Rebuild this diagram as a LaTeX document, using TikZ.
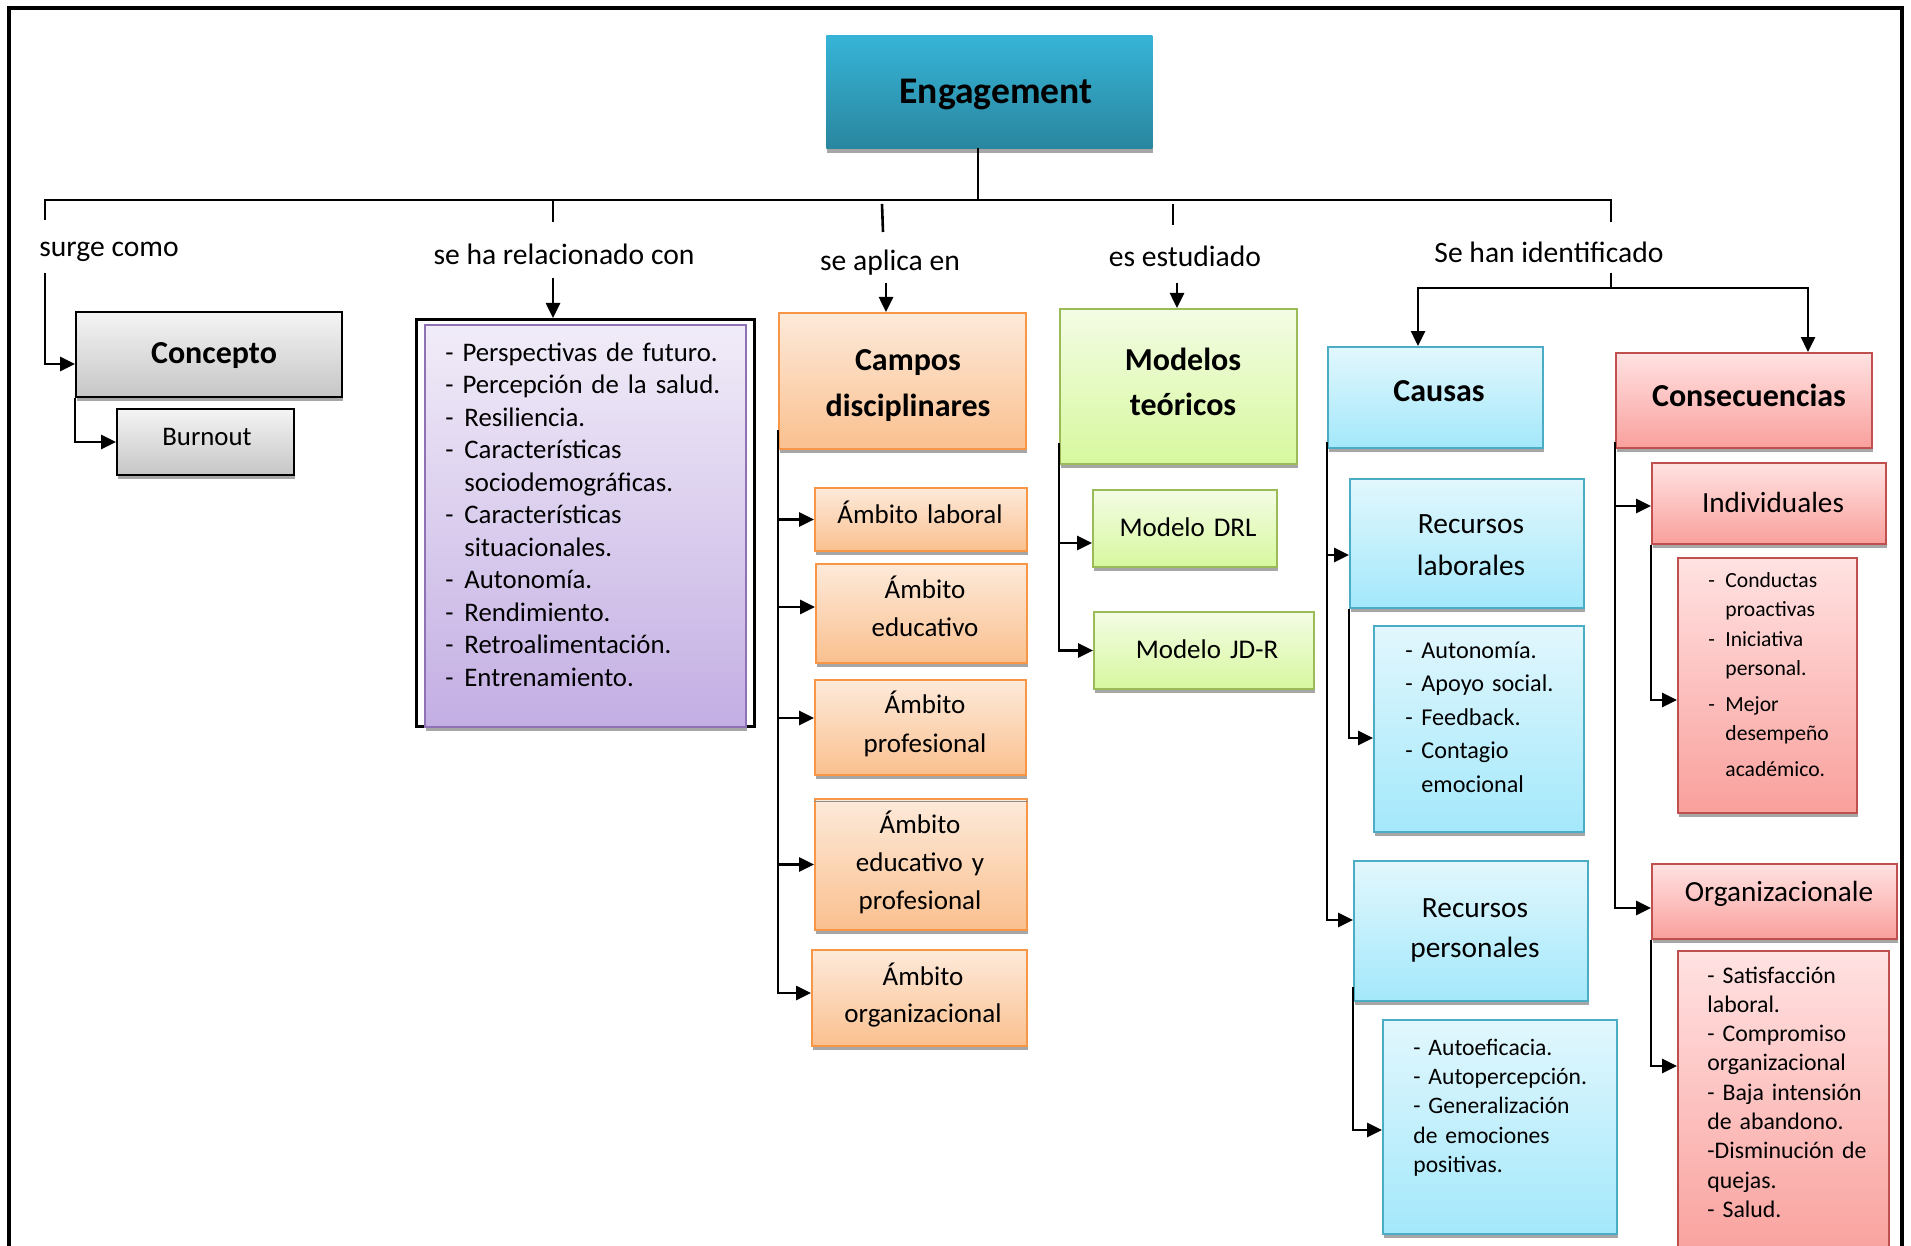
\documentclass[tikz,border=0pt]{standalone}
\usepackage{fontspec}
\setmainfont{Carlito}
\usetikzlibrary{arrows.meta,shadows}
\definecolor{engtop}{HTML}{36B4D7}
\definecolor{engbot}{HTML}{2A869F}
\definecolor{grytop}{HTML}{F4F4F4}
\definecolor{grybot}{HTML}{C6C6C6}
\definecolor{purtop}{HTML}{F1ECF8}
\definecolor{purbot}{HTML}{C3AEE3}
\definecolor{purbrd}{HTML}{8E72B4}
\definecolor{orgtop}{HTML}{FDEADA}
\definecolor{orgbot}{HTML}{FAC08F}
\definecolor{orgbrd}{HTML}{F79646}
\definecolor{grntop}{HTML}{F3FCE4}
\definecolor{grnbot}{HTML}{D7F89E}
\definecolor{grnbrd}{HTML}{9BBB59}
\definecolor{cyntop}{HTML}{E2F7FD}
\definecolor{cynbot}{HTML}{A3E8FB}
\definecolor{cynbrd}{HTML}{4BACC6}
\definecolor{redtop}{HTML}{FFE2E2}
\definecolor{redbot}{HTML}{F9A09C}
\definecolor{redbrd}{HTML}{C0504D}
\newcommand{\myfs}[2]{\fontsize{#1}{#2}\selectfont}
\newcommand{\mydash}[1]{\makebox[#1][l]{-}}
\tikzset{
 bx/.style={rectangle, anchor=north west, inner sep=0pt,
   drop shadow={shadow xshift=0.5pt, shadow yshift=-2.2pt, opacity=1, fill=black!35}},
 engbox/.style={bx, top color=engtop, bottom color=engbot},
 grybox/.style={bx, draw=black, line width=1pt, top color=grytop, bottom color=grybot},
 purbox/.style={bx, draw=purbrd, line width=1pt, top color=purtop, bottom color=purbot},
 orbox/.style={bx, draw=orgbrd, line width=1pt, top color=orgtop, bottom color=orgbot},
 grbox/.style={bx, draw=grnbrd, line width=1pt, top color=grntop, bottom color=grnbot},
 cybox/.style={bx, draw=cynbrd, line width=1pt, top color=cyntop, bottom color=cynbot},
 rdbox/.style={bx, draw=redbrd, line width=1pt, top color=redtop, bottom color=redbot},
 ttl/.style={anchor=base, inner sep=0pt, align=center, text width=160pt},
 lbl/.style={font=\myfs{14.8}{17}, inner sep=0pt},
 txtlist/.style={anchor=base west, inner sep=0pt, align=left, text width=#1},
 conn/.style={line width=1.3pt},
 arr/.style={line width=1.3pt, -{Triangle[length=7.5pt,width=7pt]}},
}
\begin{document}
\begin{tikzpicture}[x=0.5pt,y=-0.5pt]
\useasboundingbox (0,0) rectangle (1911,1246);
\clip (0,0) rectangle (1911,1246);
% frame
\draw[line width=1.6pt] (9,1260) -- (9,8) -- (1902,8) -- (1902,1260);

% ---------- boxes
\node[engbox, minimum width=163pt, minimum height=56.5pt] (eng) at (826,35) {};
\node[ttl, font=\bfseries\myfs{18.8}{22}] (engt) at (996,104) {Engagement};

\node[grybox, minimum width=133pt, minimum height=42.5pt] (concepto) at (75,311) {};
\node[ttl, font=\bfseries\myfs{16}{20}] (conceptot) at (214,363) {Concepto};
\node[grybox, minimum width=88.5pt, minimum height=33pt] (burnout) at (116,408) {};
\node[ttl, font=\myfs{13.4}{16}] (burnoutt) at (207,445) {Burnout};

\node[draw, line width=1.5pt, anchor=north west, inner sep=0pt, minimum width=169pt, minimum height=203.5pt] (relout) at (415,318) {};
\node[purbox, minimum width=160.5pt, minimum height=201pt] (rel) at (424,324) {};
\node[txtlist=150pt, font=\myfs{13.4}{16.25}] (reltxt) at (445,361) {- Perspectivas de futuro.\\
- Percepción de la salud.\\
\mydash{9.5pt}Resiliencia.\\
\mydash{9.5pt}Características\\
\hspace*{9.5pt}sociodemográficas.\\
\mydash{9.5pt}Características\\
\hspace*{9.5pt}situacionales.\\
\mydash{9.5pt}Autonomía.\\
\mydash{9.5pt}Rendimiento.\\
\mydash{9.5pt}Retroalimentación.\\
\mydash{9.5pt}Entrenamiento.};

\node[orbox, minimum width=123.5pt, minimum height=68pt] (campos) at (778,312) {};
\node[ttl, font=\bfseries\myfs{16}{23}] (campost) at (908,370) {Campos\\disciplinares};
\node[orbox, minimum width=106pt, minimum height=31.5pt] (lab) at (814,487) {};
\node[ttl, font=\myfs{13.5}{19}] (labt) at (920,523) {Ámbito laboral};
\node[orbox, minimum width=105.5pt, minimum height=49.5pt] (edu) at (815,563) {};
\node[ttl, font=\myfs{13.5}{19}] (edut) at (925,598) {Ámbito\\educativo};
\node[orbox, minimum width=105.5pt, minimum height=47.5pt] (prof) at (814,679) {};
\node[ttl, font=\myfs{13.5}{19.5}] (proft) at (925,713) {Ámbito\\profesional};
\node[orbox, minimum width=106pt, minimum height=65.5pt] (edupro) at (814,798) {};
\draw[black!45, line width=0.6pt] ([yshift=-1.6pt]edupro.north west) -- ([yshift=-1.6pt]edupro.north east);
\node[ttl, font=\myfs{13.5}{19}] (eduprot) at (920,833) {Ámbito\\educativo y\\profesional};
\node[orbox, minimum width=107.5pt, minimum height=48pt] (orgam) at (811,949) {};
\node[ttl, font=\myfs{13.5}{18.5}] (orgamt) at (923,985) {Ámbito\\organizacional};

\node[grbox, minimum width=118.5pt, minimum height=77.5pt] (modelos) at (1059,308) {};
\node[ttl, font=\bfseries\myfs{16}{22.5}] (modelost) at (1183,370) {Modelos\\teóricos};
\node[grbox, minimum width=92pt, minimum height=38.5pt] (drl) at (1092,489) {};
\node[ttl, font=\myfs{13.5}{16}] (drlt) at (1188,536) {Modelo DRL};
\node[grbox, minimum width=110pt, minimum height=38.5pt] (jdr) at (1093,611) {};
\node[ttl, font=\myfs{13.5}{16}] (jdrt) at (1207,658) {Modelo JD-R};

\node[cybox, minimum width=107.5pt, minimum height=50.5pt] (causas) at (1327,346) {};
\node[ttl, font=\bfseries\myfs{16}{20}] (causast) at (1439,401) {Causas};
\node[cybox, minimum width=117pt, minimum height=64.5pt] (reclab) at (1349,478) {};
\node[ttl, font=\myfs{14.7}{21}] (reclabt) at (1471,533) {Recursos\\laborales};
\node[cybox, minimum width=105pt, minimum height=103pt] (lablist) at (1373,625) {};
\node[txtlist=95pt, font=\myfs{12.1}{16.7}] (labtxt) at (1405,658.5) {\mydash{8pt}Autonomía.\\
\mydash{8pt}Apoyo social.\\
\mydash{8pt}Feedback.\\
\mydash{8pt}Contagio\\
\hspace*{8pt}emocional};
\node[cybox, minimum width=117pt, minimum height=70pt] (recper) at (1353,860) {};
\node[ttl, font=\myfs{14.7}{20}] (recpert) at (1475,917) {Recursos\\personales};
\node[cybox, minimum width=117pt, minimum height=107pt] (perlist) at (1382,1019) {};
\node[txtlist=100pt, font=\myfs{11.8}{14.7}] (pertxt) at (1413,1055) {- Autoeficacia.\\
- Autopercepción.\\
- Generalización\\
de emociones\\
positivas.};

\node[rdbox, minimum width=128pt, minimum height=47.5pt] (consec) at (1615,352) {};
\node[ttl, font=\bfseries\myfs{16}{20}] (consect) at (1749,406) {Consecuencias};
\node[rdbox, minimum width=117pt, minimum height=40.5pt] (indiv) at (1651,462) {};
\node[ttl, font=\myfs{14.6}{17}] (indivt) at (1773,512) {Individuales};
\node[rdbox, minimum width=89.5pt, minimum height=127.5pt] (indlist) at (1677,557) {};
\node[txtlist=80pt, font=\myfs{10.8}{14.75}] (indtxt) at (1708,587) {\mydash{8.5pt}Conductas\\
\hspace*{8.5pt}proactivas\\
\mydash{8.5pt}Iniciativa\\
\hspace*{8.5pt}personal.\\[3pt]
\mydash{8.5pt}Mejor\\
\hspace*{8.5pt}desempeño\\[3pt]
\hspace*{8.5pt}académico.};
\node[rdbox, minimum width=122.5pt, minimum height=37.5pt] (orgz) at (1651,863) {};
\node[ttl, font=\myfs{14.6}{17}] (orgzt) at (1779,901) {Organizacionale};
\node[rdbox, minimum width=105.5pt, minimum height=155pt] (orglist) at (1677,950) {};
\node[txtlist=95pt, font=\myfs{11.9}{14.65}] (orgtxt) at (1707,983) {- Satisfacción\\
laboral.\\
- Compromiso\\
organizacional\\
- Baja intensión\\
de abandono.\\
-Disminución de\\
quejas.\\
- Salud.};

% ---------- labels
\node[lbl] (l1) at (109,252) {surge como};
\node[lbl] (l2) at (564,254) {se ha relacionado con};
\node[lbl] (l3) at (890,263) {se aplica en};
\node[lbl] (l4) at (1185,256) {es estudiado};
\node[lbl] (l5) at (1549,252) {Se han identificado};

% ---------- connectors
\coordinate (engb) at (978,148);
\coordinate (mid) at (978,200);
\coordinate (hl) at (45,200);
\coordinate (hr) at (1611,200);
\draw[conn] (engb) -- (mid);
\draw[conn] (45,220) -- (hl) -- (hr) -- (1611,222);

\coordinate (a1) at (45,273);
\draw[arr] (a1) |- ([yshift=-4.75pt]concepto.west);
\draw[arr] (concepto.south west) |- (burnout.west);

\draw[conn] (553,200) -- (553,222);
\coordinate (a2) at (553,278);
\draw[arr] (a2) -- (a2 |- relout.north);

\draw[conn] (882,204) -- (883,232);
\coordinate (a3) at (886,283);
\draw[arr] (a3) -- (a3 |- campos.north);

\draw[conn] (1173,204) -- (1173,225);
\coordinate (a4) at (1177,283);
\draw[arr] (a4) -- (a4 |- modelos.north);

\coordinate (i0) at (1611,288);
\draw[conn] (1611,273) -- (i0);
\draw[arr] (i0) -| (1418,288 |- causas.north);
\draw[arr] (i0) -| (1808,288 |- consec.north);

\coordinate (cs0) at (778,430);
\draw[arr] (cs0) |- (lab.west);
\draw[arr] (cs0) |- (edu.west |- 0,607);
\draw[arr] (cs0) |- (prof.west |- 0,718);
\draw[arr] (cs0) |- (edupro.west);
\draw[arr] (cs0) |- (orgam.west |- 0,993);

\coordinate (ms0) at (1059,443);
\draw[arr] (ms0) |- (drl.west |- 0,543);
\draw[arr] (ms0) |- (jdr.west);

\coordinate (cs1) at (1327,442);
\draw[arr] (cs1) |- (reclab.west |- 0,555);
\draw[arr] (cs1) |- (recper.west |- 0,920);
\draw[arr] (reclab.south west) |- (lablist.west |- 0,738);
\draw[arr] (1353,987) |- (perlist.west |- 0,1130);

\coordinate (cn0) at (1615,442);
\draw[arr] (cn0) |- (indiv.west |- 0,506);
\draw[arr] (cn0) |- (orgz.west |- 0,908);
\draw[arr] (indiv.south west) |- (indlist.west |- 0,700);
\draw[arr] (orgz.south west) |- (orglist.west |- 0,1066);
\end{tikzpicture}
\end{document}
